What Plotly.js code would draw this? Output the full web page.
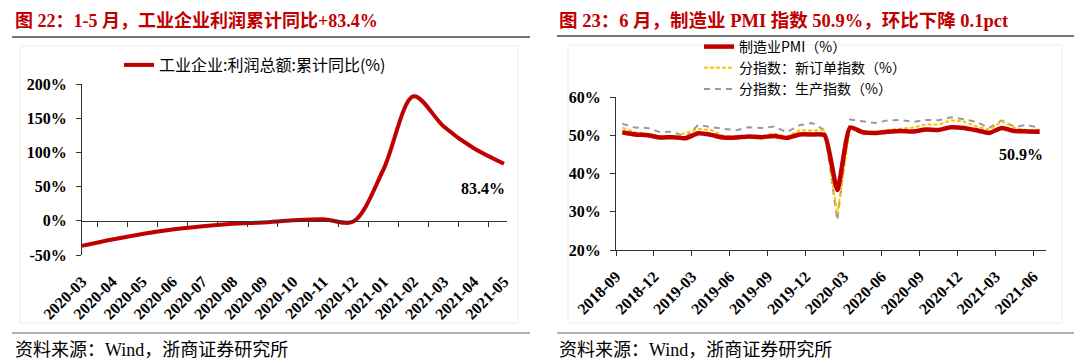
<!DOCTYPE html>
<html>
<head>
<meta charset="utf-8">
<script src="https://cdn.plot.ly/plotly-3.0.1.min.js"></script>
<style>
html,body{margin:0;padding:0;background:#fff;}
#chart{width:1080px;height:363px;}
</style>
</head>
<body>
<div id="chart"></div>
<script>
// ---------- Data: left chart ----------
const profitMonths = ['2020-03','2020-04','2020-05','2020-06','2020-07','2020-08','2020-09','2020-10','2020-11','2020-12','2021-01','2021-02','2021-03','2021-04','2021-05'];
const profitYoY = [-36.7, -27.4, -19.3, -12.8, -8.1, -4.4, -2.4, 0.7, 2.4, -1.0, 75.0, 182.0, 138.0, 106.0, 83.4];
const profitName = '工业企业:利润总额:累计同比(%)';
const profitYTicks = [-50, 0, 50, 100, 150, 200];

// ---------- Data: right chart ----------
const pmiMonths = ['2018-09','2018-10','2018-11','2018-12',
  '2019-01','2019-02','2019-03','2019-04','2019-05','2019-06','2019-07','2019-08','2019-09','2019-10','2019-11','2019-12',
  '2020-01','2020-02','2020-03','2020-04','2020-05','2020-06','2020-07','2020-08','2020-09','2020-10','2020-11','2020-12',
  '2021-01','2021-02','2021-03','2021-04','2021-05','2021-06'];
const pmi = [50.8,50.2,50.0,49.4, 49.5,49.2,50.5,50.1,49.4,49.4,49.7,49.5,49.8,49.3,50.2,50.2, 50.0,35.7,52.0,50.8,50.6,50.9,51.1,51.0,51.5,51.4,52.1,51.9, 51.3,50.6,51.9,51.1,51.0,50.9];
const newOrders = [52.0,50.8,50.4,49.7, 49.6,50.6,51.6,51.4,49.8,49.6,49.8,49.7,50.5,49.6,51.3,51.2, 51.4,29.3,52.0,50.2,50.9,51.4,51.7,52.0,52.8,52.8,53.9,53.6, 52.3,51.5,53.6,52.0,51.3,51.5];
const production = [53.0,52.0,51.9,50.8, 50.9,49.5,52.7,52.1,51.7,51.3,52.1,51.9,52.3,50.8,52.6,53.2, 51.3,27.8,54.1,53.7,53.2,53.9,54.0,53.5,54.0,53.9,54.7,54.2, 53.5,51.9,53.9,52.2,52.7,51.9];
const pmiNames = ['制造业PMI（%）', '分指数：新订单指数（%）', '分指数：生产指数（%）'];
const pmiTickLabels = pmiMonths.filter((m, i) => i % 3 === 0);
const pmiYTicks = [20, 30, 40, 50, 60];

// ---------- Texts ----------
const titleLeft = '图 22：1-5 月，工业企业利润累计同比+83.4%';
const titleRight = '图 23：6 月，制造业 PMI 指数 50.9%，环比下降 0.1pct';
const sourceText = '资料来源：Wind，浙商证券研究所';

// ---------- Geometry helpers ----------
const W = 1080, H = 363;
const px = x => x / W;
const py = y => 1 - y / H;

const RED = '#c00000';
const serif = 'Liberation Serif, "Noto Sans CJK SC", serif';
const cjk = '"Noto Sans CJK SC", "Liberation Serif", sans-serif';

const L = {x0: 82, x1: 507, yTop: 84, yBot: 255};
const R = {x0: 616, x1: 1046, yTop: 97, yBot: 250};
const leftYRange = [-50, 200];
const zeroPos = py(L.yBot) + (0 - leftYRange[0]) / (leftYRange[1] - leftYRange[0]) * (py(L.yTop) - py(L.yBot));

const idx = pmiMonths.map((m, i) => i);

const traces = [
  {
    x: profitMonths, y: profitYoY, name: profitName, type: 'scatter', mode: 'lines',
    line: {color: RED, width: 4, shape: 'spline', smoothing: 0.9},
    xaxis: 'x', yaxis: 'y', legend: 'legend', hoverinfo: 'skip'
  },
  {
    x: profitMonths, y: profitMonths.map(() => null), type: 'scatter', mode: 'lines',
    xaxis: 'x2', yaxis: 'y', showlegend: false, hoverinfo: 'skip'
  },
  {
    x: idx, y: pmi, name: pmiNames[0], type: 'scatter', mode: 'lines',
    line: {color: RED, width: 4.5, shape: 'spline', smoothing: 0.5},
    xaxis: 'x3', yaxis: 'y3', legend: 'legend2', hoverinfo: 'skip'
  },
  {
    x: idx, y: newOrders, name: pmiNames[1], type: 'scatter', mode: 'lines',
    line: {color: '#ffc000', width: 2, dash: '4px,2px'},
    xaxis: 'x3', yaxis: 'y3', legend: 'legend2', hoverinfo: 'skip'
  },
  {
    x: idx, y: production, name: pmiNames[2], type: 'scatter', mode: 'lines',
    line: {color: '#9a9a9a', width: 2, dash: '6px,5px'},
    xaxis: 'x3', yaxis: 'y3', legend: 'legend2', hoverinfo: 'skip'
  }
];
const ordered = [traces[0], traces[1], traces[4], traces[3], traces[2]];

const tickFontY = {family: serif, size: 16, color: '#000', weight: 'bold'};
const tickFontX = {family: serif, size: 16, color: '#000', weight: 'bold'};
const axisColor = '#333';

const layout = {
  width: W, height: H,
  margin: {l: 0, r: 0, t: 0, b: 0, pad: 0},
  paper_bgcolor: '#fff', plot_bgcolor: 'rgba(0,0,0,0)',
  showlegend: true,
  xaxis: {
    domain: [px(L.x0), px(L.x1)], anchor: 'y', type: 'category',
    showgrid: false, zeroline: false, showline: false,
    ticks: 'outside', ticklen: 10, tickcolor: 'rgba(0,0,0,0)',
    tickangle: -45, tickfont: tickFontX, fixedrange: true
  },
  xaxis2: {
    overlaying: 'x', matches: 'x', anchor: 'free', position: zeroPos, type: 'category',
    showgrid: false, zeroline: false, showline: true, linecolor: axisColor, linewidth: 1,
    ticks: 'outside', tickson: 'boundaries', ticklen: 5, tickcolor: axisColor,
    showticklabels: false, fixedrange: true
  },
  yaxis: {
    domain: [py(L.yBot), py(L.yTop)], anchor: 'x', range: leftYRange,
    tickvals: profitYTicks, ticktext: profitYTicks.map(v => v + '%'),
    showgrid: false, zeroline: false, showline: true, linecolor: axisColor, linewidth: 1,
    ticks: 'outside', ticklen: 5, tickcolor: axisColor, tickfont: tickFontY,
    ticklabelstandoff: 6, fixedrange: true
  },
  xaxis3: {
    domain: [px(R.x0), px(R.x1)], anchor: 'y3', type: 'linear', range: [-0.5, pmiMonths.length - 0.5],
    tickvals: idx.filter(i => i % 3 === 0).map(i => i - 0.5), ticktext: pmiTickLabels,
    showgrid: false, zeroline: false, showline: true, linecolor: axisColor, linewidth: 1,
    ticks: 'outside', ticklen: 5, tickcolor: axisColor,
    tickangle: -45, tickfont: tickFontX, ticklabelstandoff: 5, fixedrange: true
  },
  yaxis3: {
    domain: [py(R.yBot), py(R.yTop)], anchor: 'x3', range: [20, 60],
    tickvals: pmiYTicks, ticktext: pmiYTicks.map(v => v + '%'),
    showgrid: false, zeroline: false, showline: true, linecolor: axisColor, linewidth: 1,
    ticks: 'outside', ticklen: 5, tickcolor: axisColor, tickfont: tickFontY,
    ticklabelstandoff: 6, fixedrange: true
  },
  legend: {
    orientation: 'h', x: px(119), xanchor: 'left', y: py(65), yanchor: 'middle',
    bgcolor: 'rgba(0,0,0,0)', borderwidth: 0,
    font: {family: cjk, size: 16, color: '#000'}
  },
  legend2: {
    orientation: 'v', x: px(699), xanchor: 'left', y: py(31), yanchor: 'top',
    bgcolor: 'rgba(0,0,0,0)', borderwidth: 0, tracegroupgap: 0, traceorder: 'reversed',
    font: {family: cjk, size: 14, color: '#000'}
  },
  shapes: [
    {type: 'rect', xref: 'paper', yref: 'paper', x0: px(20), x1: px(518), y0: py(323), y1: py(46), line: {color: '#ececec', width: 1}},
    {type: 'rect', xref: 'paper', yref: 'paper', x0: px(568), x1: px(1062), y0: py(323), y1: py(45), line: {color: '#ececec', width: 1}},
    {type: 'line', xref: 'paper', yref: 'paper', x0: px(12), x1: px(530), y0: py(37), y1: py(37), line: {color: '#444', width: 1.5}},
    {type: 'line', xref: 'paper', yref: 'paper', x0: px(557), x1: px(1074), y0: py(36), y1: py(36), line: {color: '#444', width: 1.5}},
    {type: 'line', xref: 'paper', yref: 'paper', x0: px(12), x1: px(530), y0: py(333), y1: py(333), line: {color: '#666', width: 1.2}},
    {type: 'line', xref: 'paper', yref: 'paper', x0: px(557), x1: px(1074), y0: py(333), y1: py(333), line: {color: '#666', width: 1.2}}
  ],
  annotations: [
    {text: titleLeft, xref: 'paper', yref: 'paper', x: px(13), y: py(20), xanchor: 'left', yanchor: 'middle', showarrow: false,
     font: {family: serif, size: 18, color: RED, weight: 'bold'}},
    {text: titleRight, xref: 'paper', yref: 'paper', x: px(557), y: py(20), xanchor: 'left', yanchor: 'middle', showarrow: false,
     font: {family: serif, size: 18.5, color: RED, weight: 'bold'}},
    {text: sourceText, xref: 'paper', yref: 'paper', x: px(13), y: py(350), xanchor: 'left', yanchor: 'middle', showarrow: false,
     font: {family: serif, size: 18, color: '#000'}},
    {text: sourceText, xref: 'paper', yref: 'paper', x: px(557), y: py(350), xanchor: 'left', yanchor: 'middle', showarrow: false,
     font: {family: serif, size: 18, color: '#000'}},
    {text: profitYoY[profitYoY.length - 1].toFixed(1) + '%', xref: 'x', yref: 'y',
     x: profitMonths[profitMonths.length - 1], y: profitYoY[profitYoY.length - 1],
     xshift: -21, yshift: -25, showarrow: false,
     font: {family: serif, size: 16, color: '#000', weight: 'bold'}},
    {text: pmi[pmi.length - 1].toFixed(1) + '%', xref: 'x3', yref: 'y3',
     x: idx[idx.length - 1], y: pmi[pmi.length - 1],
     xshift: -19, yshift: -23, showarrow: false,
     font: {family: serif, size: 16, color: '#000', weight: 'bold'}}
  ]
};

Plotly.newPlot('chart', ordered, layout, {displayModeBar: false, staticPlot: true});
</script>
</body>
</html>
